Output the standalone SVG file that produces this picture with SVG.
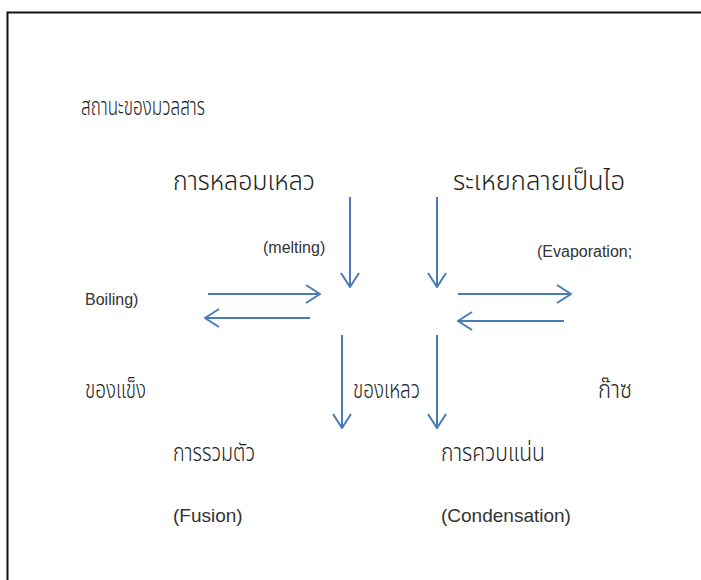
<svg xmlns="http://www.w3.org/2000/svg" width="701" height="580" viewBox="0 0 701 580">
<defs>
<style>
.th{font-family:"Noto Sans Thai","Noto Sans","DejaVu Sans",sans-serif;font-weight:300;fill:#222;}
.en{font-family:"Liberation Sans",Arial,sans-serif;font-size:16px;fill:#333;}
.big{font-size:27px;}
.mid{font-size:25px;}
.ttl{font-size:25px;}
.lg{font-size:19px;}
.ar{stroke:#4a7ab8;stroke-width:2;fill:none;marker-end:url(#v);}
</style>
<marker id="v" viewBox="0 0 16 20" refX="15" refY="10" markerWidth="16" markerHeight="20" markerUnits="userSpaceOnUse" orient="auto">
<path d="M1,1 L15,10 L1,19" fill="none" stroke="#4a7ab8" stroke-width="2"/>
</marker>
</defs>
<rect width="701" height="580" fill="#fff"/>
<path d="M7.5,590 V12.5 H710" fill="none" stroke="#111" stroke-width="2"/>
<g id="title"><text class="th ttl" x="81" y="115" textLength="124" lengthAdjust="spacingAndGlyphs">สถานะของมวลสาร</text></g>
<g id="melting"><text class="th big" x="173" y="190" textLength="142" lengthAdjust="spacingAndGlyphs">การหลอมเหลว</text><text class="en" x="263" y="253">(melting)</text></g>
<g id="evaporation"><text class="th big" x="453" y="190" textLength="172" lengthAdjust="spacingAndGlyphs">ระเหยกลายเป็นไอ</text><text class="en" x="537" y="257">(Evaporation;</text><text class="en" x="85" y="305">Boiling)</text></g>
<g id="solid"><text class="th mid" x="85" y="398" textLength="61" lengthAdjust="spacingAndGlyphs">ของแข็ง</text></g>
<g id="liquid"><text class="th mid" x="353" y="398" textLength="67" lengthAdjust="spacingAndGlyphs">ของเหลว</text></g>
<g id="gas"><text class="th mid" x="598" y="398" textLength="34" lengthAdjust="spacingAndGlyphs">ก๊าซ</text></g>
<g id="fusion"><text class="th mid" x="173" y="461" textLength="82" lengthAdjust="spacingAndGlyphs">การรวมตัว</text><text class="en lg" x="173" y="522">(Fusion)</text></g>
<g id="condensation"><text class="th mid" x="441" y="461" textLength="104" lengthAdjust="spacingAndGlyphs">การควบแน่น</text><text class="en lg" x="441" y="522">(Condensation)</text></g>
<g id="connectors">
<line class="ar" x1="350" y1="197" x2="350" y2="287"/>
<line class="ar" x1="437" y1="197" x2="437" y2="287"/>
<line class="ar" x1="208" y1="294" x2="320" y2="294"/>
<line class="ar" x1="310" y1="318" x2="205" y2="318"/>
<line class="ar" x1="458" y1="294" x2="571" y2="294"/>
<line class="ar" x1="564" y1="321" x2="458" y2="321"/>
<line class="ar" x1="342" y1="335" x2="342" y2="428"/>
<line class="ar" x1="437" y1="335" x2="437" y2="428"/>
</g>
</svg>
